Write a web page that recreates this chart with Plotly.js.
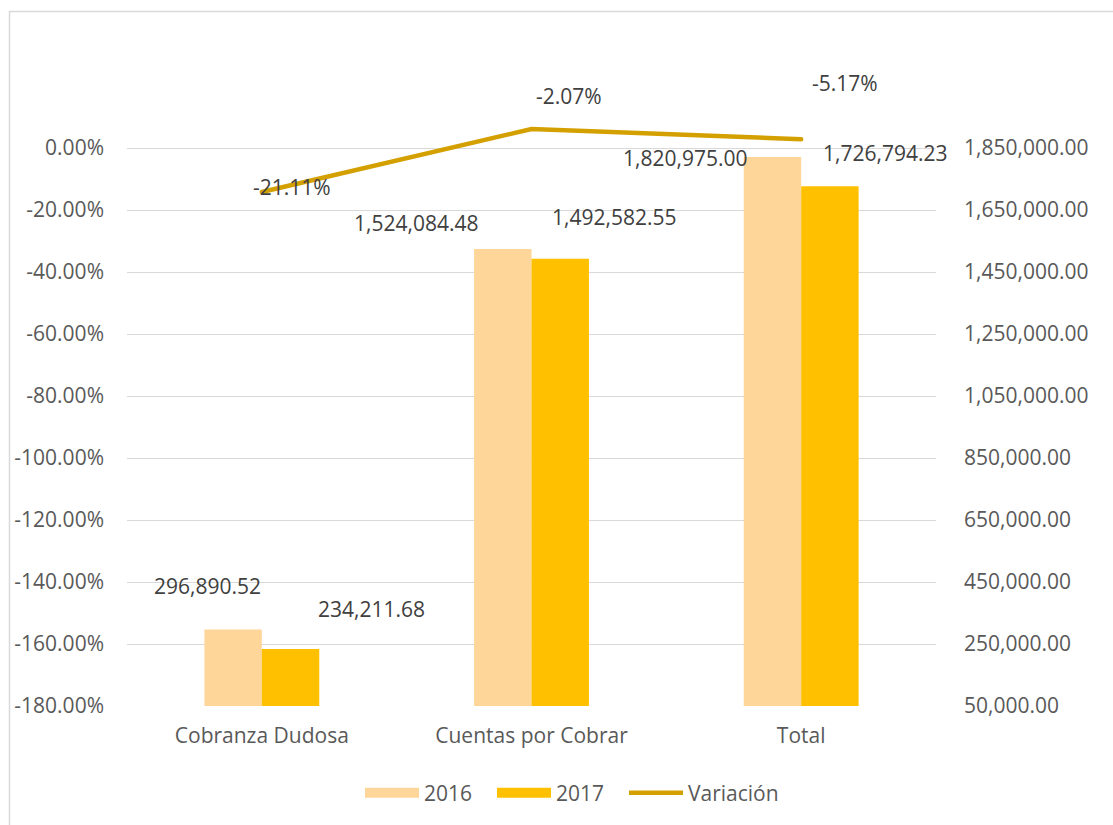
<!DOCTYPE html>
<html><head><meta charset="utf-8">
<script src="https://cdn.plot.ly/plotly-3.0.1.min.js"></script>
<style>
html,body{margin:0;padding:0;background:#fff;overflow:hidden}
#chart{width:1113px;height:825px}
.scatterlayer .js-line{stroke-linecap:round}
</style>
</head><body><div id="chart"></div>
<script>
// ---- data ----
const categories = ['Cobranza Dudosa', 'Cuentas por Cobrar', 'Total'];
const values2016 = [296890.52, 1524084.48, 1820975.00];
const values2017 = [234211.68, 1492582.55, 1726794.23];
const variacion = [-0.2111, -0.0207, -0.0517];
const seriesNames = ['2016', '2017', 'Variación'];
const pctTicks = [-1.8, -1.6, -1.4, -1.2, -1.0, -0.8, -0.6, -0.4, -0.2, 0];
const amountTicks = [50000, 250000, 450000, 650000, 850000, 1050000, 1250000, 1450000, 1650000, 1850000];

// ---- style / geometry ----
const W = 1113, H = 825;
const plotL = 127, plotR = 936, plotT = 60, plotB = 706, gridTop = 148;
const colors = {y2016: '#FFD699', y2017: '#FFC000', line: '#D4A000', grid: '#D9D9D9', tick: '#595959', label: '#404040'};
const FONT = 'Open Sans, Noto Sans, sans-serif';
const FS = 21;

const plotH = plotB - plotT;
const gridH = plotB - gridTop;
const pctRange = [pctTicks[0], pctTicks[0] + (pctTicks[pctTicks.length-1] - pctTicks[0]) * plotH / gridH];
const amtRange = [amountTicks[0], amountTicks[0] + (amountTicks[amountTicks.length-1] - amountTicks[0]) * plotH / gridH];
const lineZeroPx = 122.1, linePxPerUnit = 331;
const lineRange = [-(plotB - lineZeroPx) / linePxPerUnit, (lineZeroPx - plotT) / linePxPerUnit];

const px2x = p => (p - plotL) / (plotR - plotL);
const px2y = p => (plotB - p) / plotH;

const fmtAmt = v => v.toLocaleString('en-US', {minimumFractionDigits: 2, maximumFractionDigits: 2});
const fmtPct = v => (v * 100).toFixed(2) + '%';

const shift2016 = [[-54, 43], [-116, 26], [-116, -1]];
const shift2017 = [[110, 40], [82, 42], [84, 33]];
const shiftVar = [[30, 5], [37, 33], [44, 56]];

const traces = [
  {x: [null], y: [null], type: 'scatter', mode: 'lines', name: seriesNames[0], line: {color: colors.y2016, width: 13}, hoverinfo: 'skip', legendwidth: 63},
  {x: [null], y: [null], type: 'scatter', mode: 'lines', name: seriesNames[1], line: {color: colors.y2017, width: 13}, hoverinfo: 'skip', legendwidth: 63},
  {x: categories, y: values2016, type: 'bar', name: seriesNames[0], yaxis: 'y2', marker: {color: colors.y2016}, showlegend: false},
  {x: categories, y: values2017, type: 'bar', name: seriesNames[1], yaxis: 'y2', marker: {color: colors.y2017}, showlegend: false},
  {x: categories, y: variacion, type: 'scatter', mode: 'lines', name: seriesNames[2], yaxis: 'y3', line: {color: colors.line, width: 4.5}, legendwidth: 100}
];

const annotations = [];
categories.forEach((c, i) => {
  annotations.push({x: c, y: values2016[i], xref: 'x', yref: 'y2', text: fmtAmt(values2016[i]), showarrow: false,
    xshift: shift2016[i][0], yshift: shift2016[i][1], font: {family: FONT, size: FS, color: colors.label}});
  annotations.push({x: c, y: values2017[i], xref: 'x', yref: 'y2', text: fmtAmt(values2017[i]), showarrow: false,
    xshift: shift2017[i][0], yshift: shift2017[i][1], font: {family: FONT, size: FS, color: colors.label}});
  annotations.push({x: c, y: variacion[i], xref: 'x', yref: 'y3', text: fmtPct(variacion[i]), showarrow: false,
    xshift: shiftVar[i][0], yshift: shiftVar[i][1], font: {family: FONT, size: FS, color: colors.label}});
});

const layout = {
  width: W, height: H,
  margin: {l: plotL, r: W - plotR, t: plotT, b: H - plotB, pad: 0, autoexpand: false},
  paper_bgcolor: '#fff', plot_bgcolor: '#fff',
  font: {family: FONT, size: FS, color: colors.tick},
  barmode: 'group', bargap: 0.574, bargroupgap: 0,
  showlegend: true,
  legend: {orientation: 'h', x: px2x(360), xanchor: 'left', y: px2y(793), yanchor: 'middle',
    font: {family: FONT, size: FS, color: colors.tick}, itemwidth: 54, bgcolor: 'rgba(0,0,0,0)'},
  xaxis: {type: 'category', range: [-0.5, categories.length - 0.5], automargin: false, showgrid: false, showline: false, zeroline: false, ticks: '',
    tickfont: {family: FONT, size: FS, color: colors.tick}, ticklabelstandoff: 15, fixedrange: true},
  yaxis: {range: pctRange, automargin: false, tickvals: pctTicks, ticktext: pctTicks.map(fmtPct), showgrid: true, gridcolor: colors.grid, gridwidth: 1,
    zeroline: false, showline: false, ticks: '', tickfont: {family: FONT, size: FS, color: colors.tick}, ticklabelstandoff: 22, fixedrange: true},
  yaxis2: {range: amtRange, automargin: false, tickvals: amountTicks, ticktext: amountTicks.map(fmtAmt), overlaying: 'y', side: 'right', showgrid: false,
    zeroline: false, showline: false, ticks: '', tickfont: {family: FONT, size: FS, color: colors.tick}, ticklabelstandoff: 27, fixedrange: true},
  yaxis3: {range: lineRange, overlaying: 'y', visible: false, showgrid: false, zeroline: false, fixedrange: true},
  annotations: annotations,
  shapes: [
    {type: 'line', xref: 'paper', yref: 'paper', x0: px2x(9.5), x1: px2x(9.5), y0: px2y(11), y1: px2y(H + 5), line: {color: colors.grid, width: 1.5}},
    {type: 'line', xref: 'paper', yref: 'paper', x0: px2x(9), x1: px2x(W + 5), y0: px2y(11.5), y1: px2y(11.5), line: {color: colors.grid, width: 1.5}}
  ]
};

Plotly.newPlot('chart', traces, layout, {staticPlot: true, displayModeBar: false});
</script>
</body></html>
